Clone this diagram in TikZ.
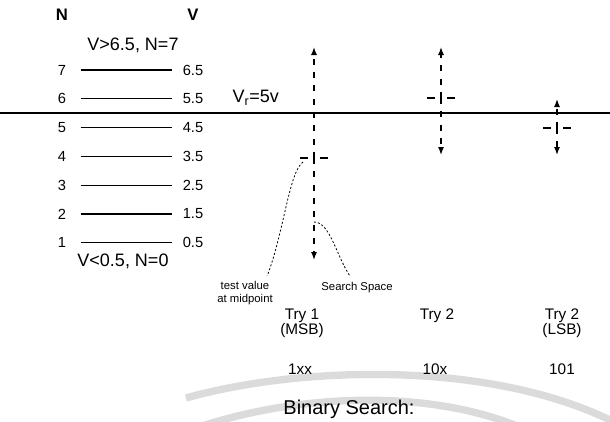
\documentclass[tikz,border=0pt]{standalone}
\usepackage{amssymb}
\usepackage{amsmath}
\usepackage{fontspec}
\setmainfont{Liberation Sans}
\usepackage{tikz}
\usetikzlibrary{arrows.meta,calc}
\tikzset{every picture/.style={line width=0.75pt}}
\tikzset{
  lvl/.style={line width=0.8pt},
  srch/.style={dash pattern={on 4.5pt off 5.5pt}, line width=1pt, -{Latex[length=6pt,width=4.5pt]}},
  crosstick/.style={line width=1pt},
  remark/.style={dash pattern={on 1.5pt off 1.5pt}, line width=0.6pt},
  wmark/.style={draw=black!14, line width=5.5pt},
  txt/.style={inner sep=0pt, font=\fontsize{11}{12}\selectfont},
  bigtxt/.style={inner sep=0pt, font=\fontsize{13.5}{14}\selectfont},
  note/.style={inner sep=0pt, align=center, font=\fontsize{8.5}{9.5}\selectfont},
  tryl/.style={inner sep=0pt, align=center, font=\fontsize{11.5}{11.5}\selectfont},
  heading/.style={inner sep=0pt, font=\fontsize{15}{16}\selectfont}
}

\begin{document}
\begin{tikzpicture}[x=0.75pt,y=0.75pt,yscale=-1,xscale=1]
\useasboundingbox (0,0) rectangle (610,421);

%Curve Lines: watermark bands
\draw[wmark] (186,398) .. controls (300,366) and (490,360) .. (614,422) ;
\draw[wmark] (196,428) .. controls (300,393) and (430,389) .. (522,428) ;

%Text Node: column heads
\node[txt, font=\bfseries\fontsize{12.5}{13}\selectfont] (hdN) at (62,15) {N};
\node[txt, font=\bfseries\fontsize{12.5}{13}\selectfont] (hdV) at (193,15) {V};
\node[bigtxt] (vtop) at (133,45) {V>6.5, N=7};
\node[bigtxt] (vbot) at (123,261) {V<0.5, N=0};

%Straight Lines: quantisation levels
\foreach \n in {1,...,7}{
  \node[txt] (n\n) at (62,{70+28.8*(7-\n)}) {\n};
  \node[txt] (v\n) at (193,{70+28.8*(7-\n)}) {\the\numexpr\n-1\relax.5};
  \draw[lvl, shorten <=10.5pt, shorten >=8pt] (n\n.east) -- (v\n.west) ;
}

%Straight Lines: reference level
\coordinate (thL) at (0,113);
\coordinate (thR) at (610,113);
\draw[line width=1.6pt] (thL) -- (thR) ;
\node[bigtxt, anchor=west] (vref) at (232,98) {V\textsubscript{r}=5v};

%Straight Lines: the three tries
\foreach \i/\x/\c/\t/\b in {1/314/158/47/260, 2/441/98/47/155, 3/557/128/99/155}{
  \coordinate (mid\i) at (\x,\c);
  \coordinate (hi\i) at (\x,\t);
  \coordinate (lo\i) at (\x,\b);
  \draw[srch] (mid\i) -- (hi\i) ;
  \draw[srch] (mid\i) -- (lo\i) ;
  \draw[crosstick] ($(mid\i)+(-14,0)$) -- ($(mid\i)+(-6,0)$) ;
  \draw[crosstick] ($(mid\i)+(6,0)$) -- ($(mid\i)+(14,0)$) ;
}

%Curve Lines: remarks
\node[note] (tv) at (245,293) {test value\\at midpoint};
\node[note] (ssp) at (357,288) {Search Space};
\coordinate (ssroot) at (314,222);
\draw[remark] ($(mid1)+(-11,4)$) .. controls (289,172) and (284,232) .. ($(tv.north east)+(-6,-5)$) ;
\draw[remark] (ssroot) .. controls (330,222) and (336,255) .. ($(ssp.north)+(-7,-6)$) ;

%Text Node: try labels
\node[tryl] (try1) at (302,323) {Try 1\\(MSB)};
\node[tryl] (try2) at (437,316) {Try 2};
\node[tryl] (try3) at (562,323) {Try 2\\(LSB)};
\node[tryl] (bit1) at (300,369) {1xx};
\node[tryl] (bit2) at (435,369) {10x};
\node[tryl] (bit3) at (562,369) {101};
\node[heading] (ttl) at (349,409) {Binary Search:};

\end{tikzpicture}
\end{document}
